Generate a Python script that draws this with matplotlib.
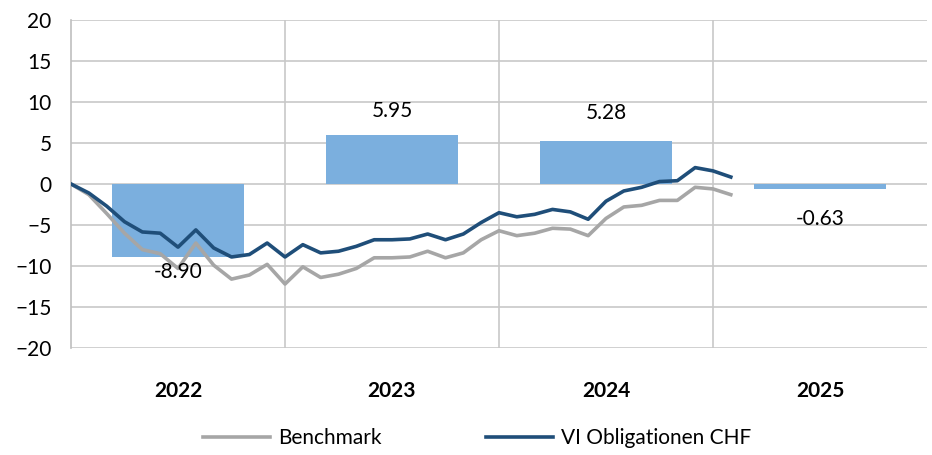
import numpy as np
import matplotlib
matplotlib.use('Agg')
from matplotlib import pyplot as plt

plt.rcParams['font.family'] = ['Lato', 'DejaVu Sans']

years = ['2022', '2023', '2024', '2025']
annual = [-8.90, 5.95, 5.28, -0.63]

# month-end values, Dec 2021 .. Jan 2025
fund = [0, -1.1, -2.7, -4.6, -5.85, -6.0, -7.7, -5.6, -7.8, -8.9, -8.6, -7.2, -8.9,
        -7.4, -8.4, -8.2, -7.6, -6.8, -6.8, -6.7, -6.1, -6.8, -6.1, -4.7, -3.5,
        -4.0, -3.7, -3.1, -3.4, -4.3, -2.1, -0.85, -0.4, 0.3, 0.4, 2.0, 1.6, 0.85]
bench = [0, -1.3, -3.6, -6.0, -8.0, -8.5, -10.3, -7.2, -9.9, -11.6, -11.1, -9.8, -12.2,
         -10.1, -11.4, -11.0, -10.3, -9.0, -9.0, -8.9, -8.2, -9.0, -8.4, -6.8, -5.7,
         -6.3, -6.0, -5.4, -5.5, -6.3, -4.2, -2.8, -2.6, -2.0, -2.0, -0.4, -0.6, -1.3]

fs = 15

fig = plt.figure(figsize=(9.32, 4.55), dpi=100)
ax = fig.add_axes([0.0762, 0.2352, 0.9184, 0.7208])

x = np.arange(len(years))
ax.bar(x, annual, width=0.62, color='#7BAFDE', zorder=2)

months = -0.5 + np.arange(len(fund)) / 12.0
ax.plot(months, bench, color='#A6A6A6', lw=2.6, zorder=3, label='Benchmark')
ax.plot(months, fund, color='#1F4E79', lw=2.6, zorder=4, label='VI Obligationen CHF')

label_off = [-15, 24, 28, -30]
for xi, v, off in zip(x, annual, label_off):
    ax.annotate('%.2f' % v, (xi, v), xytext=(0, off), textcoords='offset pixels',
                ha='center', va='center', fontsize=fs, color='black')

ax.set_xlim(-0.5, 3.5)
ax.set_ylim(-20, 20)
ax.set_yticks(range(-20, 21, 5))
ax.set_xticks(x)
ax.set_xticklabels(years, fontweight='bold', fontsize=fs)
ax.tick_params(axis='x', length=0, pad=24)
ax.tick_params(axis='y', length=0, labelsize=fs, pad=14)

for v in range(-20, 21, 5):
    ax.axhline(v, color='#C8C8C8', lw=1.2, zorder=1)
for b in [0.5, 1.5, 2.5]:
    ax.axvline(b, color='#C8C8C8', lw=1.2, zorder=1)

for s in ['top', 'right', 'bottom']:
    ax.spines[s].set_visible(False)
ax.spines['left'].set_color('#BFBFBF')
ax.spines['left'].set_linewidth(1.2)

fig.legend(loc='center', bbox_to_anchor=(0.512, 0.037), ncol=2, frameon=False,
           fontsize=fs, handlelength=3.2, columnspacing=5, handletextpad=0.4)

fig.savefig('out.png', dpi=100)
